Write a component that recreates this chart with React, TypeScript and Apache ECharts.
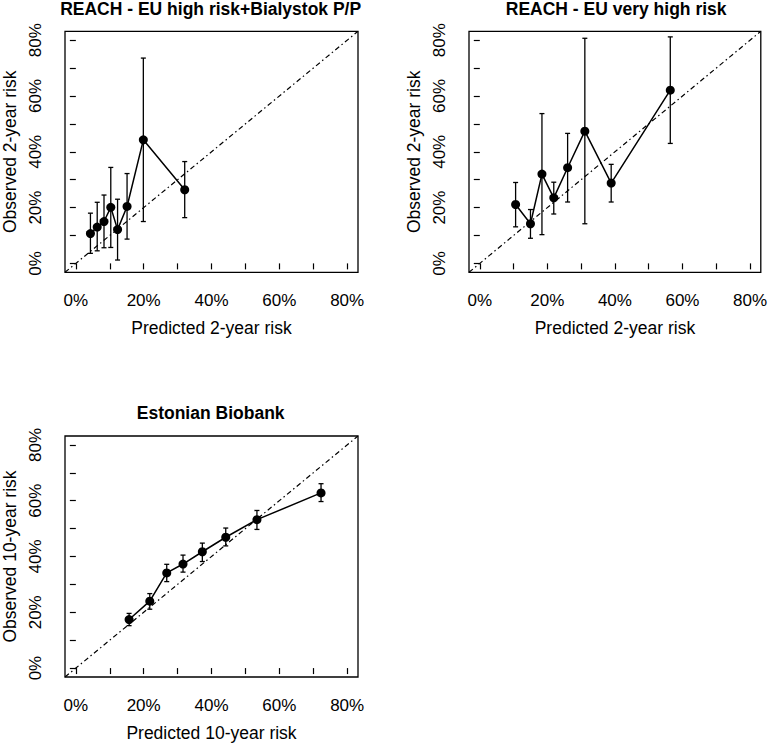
import React, { useEffect, useRef } from "react";
import * as echarts from "echarts";

// ---- data (percent) ----
const tickValues = [0, 10, 20, 30, 40, 50, 60, 70, 80];
const labelValues = [0, 20, 40, 60, 80];
const AXIS_MIN = -3.2;
const AXIS_MAX = 83.2;

const titles = [
  "REACH - EU high risk+Bialystok P/P",
  "REACH - EU very high risk",
  "Estonian Biobank",
];
const xNames = ["Predicted 2-year risk", "Predicted 2-year risk", "Predicted 10-year risk"];
const yNames = ["Observed 2-year risk", "Observed 2-year risk", "Observed 10-year risk"];

const predA = [4.3, 6.3, 8.3, 10.3, 12.3, 15.1, 19.9, 32.1];
const obsA = [10.7, 13.0, 15.0, 20.1, 12.1, 20.4, 44.3, 26.4];
const loA = [3.6, 4.5, 5.6, 5.7, 1.2, 8.7, 15.0, 16.4];
const hiA = [18.0, 21.9, 24.5, 34.4, 23.0, 32.2, 73.6, 36.5];

const predB = [10.6, 15.0, 18.4, 21.9, 26.0, 31.1, 38.9, 56.4];
const obsB = [21.1, 14.2, 32.0, 23.5, 34.3, 47.4, 28.8, 62.1];
const loB = [13.1, 9.0, 10.3, 17.7, 22.0, 14.2, 22.0, 43.0];
const hiB = [29.0, 19.3, 53.7, 29.1, 46.6, 80.7, 35.5, 81.2];

const predC = [15.7, 21.8, 26.8, 31.6, 37.3, 44.2, 53.4, 72.3];
const obsC = [17.4, 24.0, 34.1, 37.3, 41.7, 46.9, 53.2, 62.8];
const loC = [15.2, 21.1, 31.0, 34.4, 38.2, 43.8, 49.7, 59.7];
const hiC = [19.6, 26.7, 37.2, 40.5, 44.8, 50.2, 56.5, 66.1];

const panels = [
  { pred: predA, obs: obsA, lo: loA, hi: hiA },
  { pred: predB, obs: obsB, lo: loB, hi: hiB },
  { pred: predC, obs: obsC, lo: loC, hi: hiC },
];

const FONT = "Liberation Sans, Arial, sans-serif";

const grids = [
  { left: 63.3, top: 31.3, width: 294.7, height: 241 },
  { left: 469, top: 31.3, width: 294.3, height: 241 },
  { left: 63.3, top: 436, width: 294.7, height: 242.3 },
];
const titleTops = [0, 0, 403.5];

export default function App() {
  const ref = useRef<HTMLDivElement>(null);
  useEffect(() => {
    if (!ref.current) return;
    const chart = echarts.init(ref.current, undefined, { renderer: "svg" });

    const xAxis = grids.map((_, i) => ({
      type: "value",
      gridIndex: i,
      min: AXIS_MIN,
      max: AXIS_MAX,
      name: xNames[i],
      nameLocation: "middle",
      nameGap: 47,
      nameTextStyle: { color: "#000", fontSize: 17.5, fontFamily: FONT },
      axisLine: { show: false },
      axisTick: {
        show: true,
        customValues: tickValues,
        length: 6,
        lineStyle: { color: "#000", width: 1.2 },
      },
      axisLabel: {
        show: true,
        customValues: labelValues,
        formatter: (v: number) => `${v}%`,
        color: "#000",
        fontSize: 17,
        fontFamily: FONT,
        margin: 20,
      },
      splitLine: { show: false },
    }));

    const yAxis = grids.map((_, i) => ({
      type: "value",
      gridIndex: i,
      min: AXIS_MIN,
      max: AXIS_MAX,
      name: yNames[i],
      nameLocation: "middle",
      nameRotate: 90,
      nameGap: 46,
      nameTextStyle: { color: "#000", fontSize: 17.5, fontFamily: FONT },
      axisLine: { show: false },
      axisTick: {
        show: true,
        customValues: tickValues,
        length: 6,
        lineStyle: { color: "#000", width: 1.2 },
      },
      axisLabel: {
        show: true,
        customValues: labelValues,
        rotate: 90,
        formatter: (v: number) => `${v}%`,
        color: "#000",
        fontSize: 17,
        fontFamily: FONT,
        margin: 21,
      },
      splitLine: { show: false },
    }));

    const series: any[] = [];
    panels.forEach((p, i) => {
      series.push({
        type: "line",
        xAxisIndex: i,
        yAxisIndex: i,
        data: [
          [AXIS_MIN, AXIS_MIN],
          [AXIS_MAX, AXIS_MAX],
        ],
        symbol: "none",
        silent: true,
        lineStyle: { color: "#000", width: 1.2, type: [5, 3, 1.5, 3] },
        z: 1,
      });
      series.push({
        type: "custom",
        xAxisIndex: i,
        yAxisIndex: i,
        data: p.pred.map((x, k) => [x, p.lo[k], p.hi[k]]),
        encode: { x: 0, y: [1, 2] },
        renderItem: (params: any, api: any) => {
          const x = api.value(0);
          const lo = api.value(1);
          const hi = api.value(2);
          const a = api.coord([x, lo]);
          const b = api.coord([x, hi]);
          const w = 2.5;
          const style = { stroke: "#000", lineWidth: 1.3 };
          return {
            type: "group",
            children: [
              { type: "line", shape: { x1: a[0], y1: a[1], x2: b[0], y2: b[1] }, style },
              { type: "line", shape: { x1: a[0] - w, y1: a[1], x2: a[0] + w, y2: a[1] }, style },
              { type: "line", shape: { x1: b[0] - w, y1: b[1], x2: b[0] + w, y2: b[1] }, style },
            ],
          };
        },
        z: 2,
      });
      series.push({
        type: "line",
        xAxisIndex: i,
        yAxisIndex: i,
        data: p.pred.map((x, k) => [x, p.obs[k]]),
        symbol: "circle",
        symbolSize: 9,
        itemStyle: { color: "#000" },
        lineStyle: { color: "#000", width: 1.5 },
        z: 3,
      });
    });

    chart.setOption({
      animation: false,
      backgroundColor: "#fff",
      title: titles.map((t, i) => ({
        text: t,
        left: grids[i].left + grids[i].width / 2,
        top: titleTops[i],
        textAlign: "center",
        padding: 0,
        textStyle: { color: "#000", fontSize: 17.5, fontWeight: "bold", fontFamily: FONT },
      })),
      grid: grids.map((g) => ({
        ...g,
        show: true,
        borderColor: "#000",
        borderWidth: 1.3,
        backgroundColor: "transparent",
        containLabel: false,
      })),
      xAxis,
      yAxis,
      series,
    });

    return () => chart.dispose();
  }, []);

  return (
    <div
      ref={ref}
      style={{ position: "fixed", left: 0, top: 0, width: 770, height: 743, background: "#fff" }}
    />
  );
}
